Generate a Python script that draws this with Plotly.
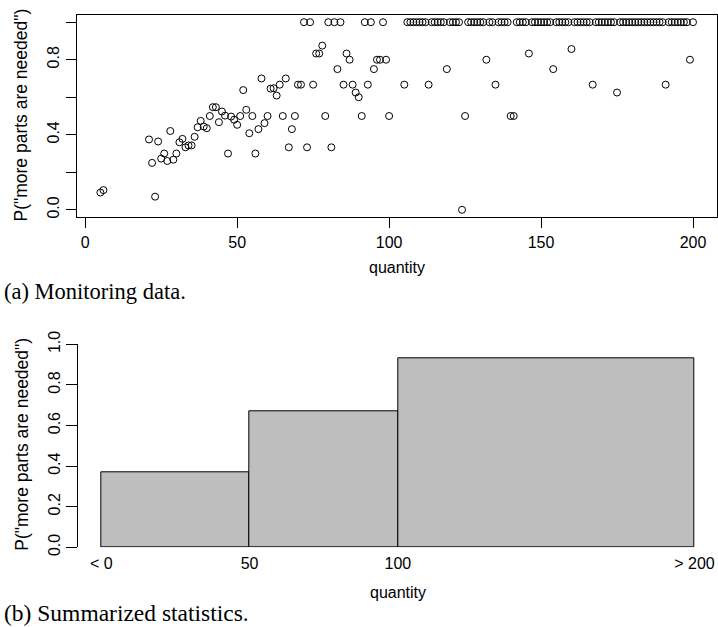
import plotly.graph_objects as go

# ---- data: panel (a) monitoring data ----
quantity = [5, 6,
            21, 22, 23, 24, 25, 26, 27, 28, 29, 30,
            31, 32, 33, 34, 35, 36, 37, 38, 39, 40,
            41, 42, 43, 44, 45, 46, 47, 48, 49, 50,
            51, 52, 53, 54, 55, 56, 57, 58, 59, 60,
            61, 62, 63, 64, 65, 66, 67, 68, 69, 70,
            71, 72, 73, 74, 75, 76, 77, 78, 79, 80,
            81, 82, 83, 84, 85, 86, 87, 88, 89, 90,
            91, 92, 93, 94, 95, 96, 97, 98, 99, 100,
            105, 106, 107, 108, 109, 110,
            111, 112, 113, 114, 115, 116, 117, 118, 119, 120,
            121, 122, 123, 124, 125, 126, 127, 128, 129, 130,
            131, 132, 133, 134, 135, 136, 137, 138, 139, 140,
            141, 142, 143, 144, 145, 146, 147, 148, 149, 150,
            151, 152, 153, 154, 155, 156, 157, 158, 159, 160,
            161, 162, 163, 164, 165, 166, 167, 168, 169, 170,
            171, 172, 173, 174, 175, 176, 177, 178, 179, 180,
            181, 182, 183, 184, 185, 186, 187, 188, 189, 190,
            191, 192, 193, 194, 195, 196, 197, 198, 199, 200]

p_more = [0.092, 0.105,
          0.375, 0.25, 0.07, 0.364, 0.273, 0.30, 0.26, 0.42, 0.267, 0.30,
          0.36, 0.378, 0.333, 0.343, 0.343, 0.389, 0.44, 0.474, 0.444, 0.435,
          0.5, 0.547, 0.547, 0.467, 0.524, 0.502, 0.30, 0.497, 0.48, 0.453,
          0.5, 0.638, 0.533, 0.408, 0.5, 0.30, 0.43, 0.70, 0.462, 0.5,
          0.646, 0.648, 0.609, 0.667, 0.5, 0.70, 0.333, 0.43, 0.5, 0.667,
          0.667, 1.0, 0.333, 1.0, 0.667, 0.833, 0.833, 0.875, 0.5, 1.0,
          0.333, 1.0, 0.75, 1.0, 0.667, 0.833, 0.8, 0.667, 0.625, 0.6,
          0.5, 1.0, 0.667, 1.0, 0.75, 0.8, 0.8, 1.0, 0.8, 0.5,
          0.667, 1.0, 1.0, 1.0, 1.0, 1.0,
          1.0, 1.0, 0.667, 1.0, 1.0, 1.0, 1.0, 1.0, 0.75, 1.0,
          1.0, 1.0, 1.0, 0.0, 0.5, 1.0, 1.0, 1.0, 1.0, 1.0,
          1.0, 0.8, 1.0, 1.0, 0.667, 1.0, 1.0, 1.0, 1.0, 0.5,
          0.5, 1.0, 1.0, 1.0, 1.0, 0.833, 1.0, 1.0, 1.0, 1.0,
          1.0, 1.0, 1.0, 0.75, 1.0, 1.0, 1.0, 1.0, 1.0, 0.857,
          1.0, 1.0, 1.0, 1.0, 1.0, 1.0, 0.667, 1.0, 1.0, 1.0,
          1.0, 1.0, 1.0, 1.0, 0.625, 1.0, 1.0, 1.0, 1.0, 1.0,
          1.0, 1.0, 1.0, 1.0, 1.0, 1.0, 1.0, 1.0, 1.0, 1.0,
          0.667, 1.0, 1.0, 1.0, 1.0, 1.0, 1.0, 1.0, 0.8, 1.0]

top_xticks = [0, 50, 100, 150, 200]
top_yticks = [0.0, 0.2, 0.4, 0.6, 0.8, 1.0]
top_ylabels = ["0.0", "", "0.4", "", "0.8", ""]

# ---- data: panel (b) summarized statistics ----
bin_left = [0, 50, 100]
bin_width = [50, 50, 100]
bin_prob = [0.369, 0.668, 0.932]
bot_xticks = [0, 50, 100, 200]
bot_xlabels = ["< 0", "50", "100", "> 200"]
bot_yticks = [0.0, 0.2, 0.4, 0.6, 0.8, 1.0]
bot_ylabels = ["0.0", "0.2", "0.4", "0.6", "0.8", "1.0"]

SANS = "Liberation Sans, Arial, sans-serif"
SERIF = "Liberation Serif, Times New Roman, serif"
W, H = 718, 627

fig = go.Figure()

fig.add_trace(go.Scatter(
    x=quantity, y=p_more, mode="markers",
    marker=dict(symbol="circle-open", size=7, color="black",
                line=dict(width=1, color="black")),
    xaxis="x", yaxis="y", showlegend=False, hoverinfo="skip"))

fig.add_trace(go.Bar(
    x=bin_left, y=bin_prob, width=bin_width, offset=0,
    marker=dict(color="#BEBEBE", line=dict(color="black", width=1)),
    xaxis="x2", yaxis="y2", showlegend=False, hoverinfo="skip"))

def px_x(p):
    return p / W

def px_y(p):
    return 1 - p / H

tickfont = dict(family=SANS, size=16, color="black")

fig.update_layout(
    template="none",
    width=W, height=H,
    margin=dict(l=0, r=0, t=0, b=0, pad=0, autoexpand=False),
    paper_bgcolor="white", plot_bgcolor="white",
    font=dict(family=SANS, color="black"),
    xaxis=dict(domain=[px_x(76.7), px_x(716.7)], range=[-2.8, 207.8],
               anchor="y", tickvals=top_xticks, ticks="outside", ticklen=10,
               tickcolor="black", showline=True, linecolor="black", linewidth=1,
               mirror=True, showgrid=False, zeroline=False, tickfont=tickfont,
               automargin=False),
    yaxis=dict(domain=[px_y(217.3), px_y(14.7)], range=[-0.04, 1.04],
               anchor="x", tickvals=top_yticks, ticktext=top_ylabels,
               ticks="outside", ticklen=10, tickcolor="black", tickangle=-90,
               showline=True, linecolor="black", linewidth=1, mirror=True,
               showgrid=False, zeroline=False, tickfont=tickfont,
               automargin=False),
    xaxis2=dict(domain=[px_x(78.3), px_x(717.5)], range=[-7.75, 207.75],
                anchor="y2", tickvals=bot_xticks, ticktext=bot_xlabels,
                ticks="", showline=False, showgrid=False, zeroline=False,
                tickfont=tickfont, automargin=False, ticklabelstandoff=5),
    yaxis2=dict(domain=[px_y(547.3), px_y(344.3)], range=[0, 1.0],
                anchor="x2", tickvals=bot_yticks, ticktext=bot_ylabels,
                ticks="outside", ticklen=11, tickcolor="black", tickangle=-90,
                showline=True, linecolor="black", linewidth=1,
                showgrid=False, zeroline=False, tickfont=tickfont,
                automargin=False),
    bargap=0,
)

ann = [
    dict(text="quantity", x=px_x(397), y=px_y(268), font=dict(family=SANS, size=16, color="black")),
    dict(text="quantity", x=px_x(397.5), y=px_y(592.7), font=dict(family=SANS, size=16, color="black")),
    dict(text='P("more parts are needed")', x=px_x(20), y=px_y(115.5), textangle=-90,
         font=dict(family=SANS, size=17.5, color="black")),
    dict(text='P("more parts are needed")', x=px_x(21.7), y=px_y(444), textangle=-90,
         font=dict(family=SANS, size=17.5, color="black")),
]
for a in ann:
    fig.add_annotation(xref="paper", yref="paper", showarrow=False,
                       xanchor="center", yanchor="middle", **a)

for text, y, sz in [("(a) Monitoring data.", 291, 22.5), ("(b) Summarized statistics.", 613, 23.5)]:
    fig.add_annotation(text=text, xref="paper", yref="paper", x=px_x(2), y=px_y(y),
                       xanchor="left", yanchor="middle", showarrow=False,
                       font=dict(family=SERIF, size=sz, color="black"))

fig.write_html("out.html", config={"displayModeBar": False},
               post_script="document.body.style.margin='0';document.body.style.padding='0';")
